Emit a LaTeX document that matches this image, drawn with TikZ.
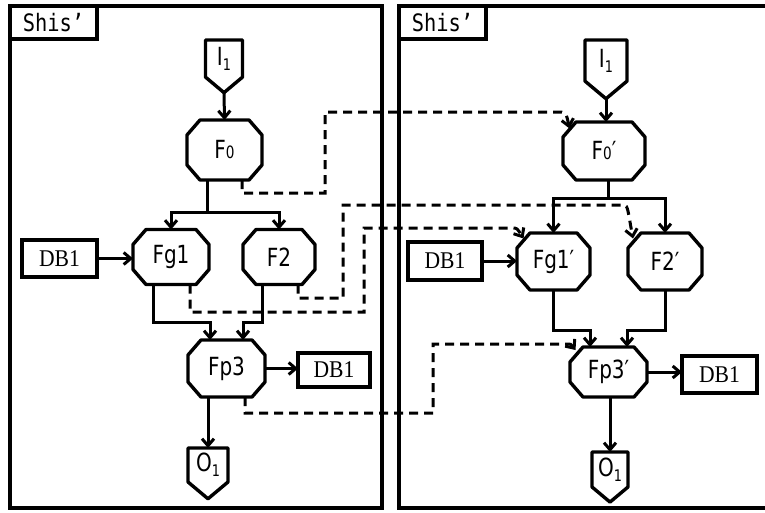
\documentclass[tikz,border=0pt]{standalone}
\usepackage{fontspec}
\setmainfont{DejaVu Sans}[FakeStretch=0.8]
\newfontfamily\dbfont{Liberation Serif}[FakeStretch=0.9]
\newfontfamily\tagfont{DejaVu Sans Mono}[FakeStretch=0.85]
\usetikzlibrary{arrows.meta,shapes.symbols,calc}
\newcommand\smallsub[1]{{\fontsize{17pt}{17pt}\selectfont #1}}
\newcommand\lowsub[1]{\raisebox{-5pt}{\fontsize{16pt}{16pt}\selectfont #1}}
\newcommand\octdraw[1]{%
  \draw[octline] ($(#1.north west)+(13,0)$) -- ($(#1.north east)+(-13,0)$)
    -- ($(#1.north east)+(0,15)$) -- ($(#1.south east)+(0,-15)$)
    -- ($(#1.south east)+(-13,0)$) -- ($(#1.south west)+(13,0)$)
    -- ($(#1.south west)+(0,-15)$) -- ($(#1.north west)+(0,15)$) -- cycle;}
\begin{document}
\begin{tikzpicture}[x=1pt,y=-1pt,
  every node/.style={font=\fontsize{25pt}{27pt}\selectfont, inner sep=0pt, outer sep=0pt},
  frame/.style={line width=3.6pt},
  oct/.style={rectangle},
  octline/.style={line width=3.4pt, line join=round},
  dbbox/.style={draw, rectangle, line width=3.4pt, font=\dbfont\fontsize{24pt}{26pt}\selectfont},
  tagbox/.style={draw, rectangle, line width=3.4pt, minimum width=87pt, minimum height=33pt,
    font=\tagfont\fontsize{24pt}{26pt}\selectfont},
  ioshape/.style={draw, signal, signal to=south, signal from=nowhere,
    signal pointer angle=100, line width=3.4pt, line join=round},
  conn/.style={-{Straight Barb[length=7pt,width=12pt]}, line width=3pt},
  dconn/.style={-{Straight Barb[length=7pt,width=12pt]}, line width=3pt,
    dash pattern=on 9pt off 6pt},
]
\useasboundingbox (0,0) rectangle (765,512);

% frames
\draw[frame] (10,6) rectangle (382,508);
\draw[frame] (767,6) -- (399,6) -- (399,508) -- (767,508);

% ---------- left panel ----------
\node[tagbox, anchor=north west] (tagL) at (10,6) {Shis’};
\node[ioshape, minimum width=37pt, minimum height=43pt, anchor=north] (I1L) at (224,40) {I\lowsub{1}};
\node[oct, minimum width=75pt, minimum height=60pt] (F0L) at (224.5,150) {F\smallsub{0}};
\node[oct, minimum width=76pt, minimum height=55pt] (Fg1L) at (171,257) {Fg1};
\node[oct, minimum width=72pt, minimum height=55pt] (F2L) at (279,257) {F2};
\node[oct, minimum width=77pt, minimum height=57pt] (Fp3L) at (226.5,368.5) {Fp3};
\octdraw{F0L}\octdraw{Fg1L}\octdraw{F2L}\octdraw{Fp3L}
\node[dbbox, minimum width=75pt, minimum height=37pt] (DBLa) at (59.5,258.5) {DB1};
\node[dbbox, minimum width=72pt, minimum height=34pt] (DBLb) at (334,370) {DB1};
\node[ioshape, minimum width=40pt, minimum height=44pt, anchor=north] (O1L) at (208,448) {O\lowsub{1}};

\draw[conn] (I1L.south) -- (F0L.north);
\coordinate (jL) at (207,212);
\draw[line width=3pt] (F0L.south -| jL) -- (jL);
\draw[conn] (jL) -| (Fg1L.north);
\draw[conn] (jL) -| (F2L.north);
\draw[conn] (DBLa.east) -- (DBLa.east -| Fg1L.west);
\draw[conn] ($(Fg1L.south)+(-18,0)$) |- ($(Fp3L.north)+(-16.5,-18)$) -- ($(Fp3L.north)+(-16.5,0)$);
\draw[conn] ($(F2L.south)+(-17,0)$) |- ($(Fp3L.north)+(16.5,-18)$) -- ($(Fp3L.north)+(16.5,0)$);
\draw[conn] (Fp3L.east) -- (Fp3L.east -| DBLb.west);
\draw[conn] (O1L.north |- Fp3L.south) -- (O1L.north);

% ---------- right panel ----------
\node[tagbox, anchor=north west] (tagR) at (399,6) {Shis’};
\node[ioshape, minimum width=42pt, minimum height=47pt, anchor=north] (I1R) at (606,40) {I\lowsub{1}};
\node[oct, minimum width=82pt, minimum height=58pt] (F0R) at (604,151) {F\smallsub{0}′};
\node[oct, minimum width=73pt, minimum height=57pt] (Fg1R) at (553.5,261.5) {Fg1′};
\node[oct, minimum width=74pt, minimum height=57pt] (F2R) at (665,261.5) {F2′};
\node[oct, minimum width=77pt, minimum height=50pt] (Fp3R) at (608.5,372) {Fp3′};
\octdraw{F0R}\octdraw{Fg1R}\octdraw{F2R}\octdraw{Fp3R}
\node[dbbox, minimum width=74pt, minimum height=38pt] (DBRa) at (445,261) {DB1};
\node[dbbox, minimum width=75pt, minimum height=37pt] (DBRb) at (719.5,374.5) {DB1};
\node[ioshape, minimum width=36pt, minimum height=45pt, anchor=north] (O1R) at (610,452) {O\lowsub{1}};

\draw[conn] (I1R.south) -- (I1R.south |- F0R.north);
\coordinate (jR) at (608,198);
\draw[line width=3pt] (F0R.south -| jR) -- (jR);
\draw[conn] (jR) -| (Fg1R.north);
\draw[conn] (jR) -| (F2R.north);
\draw[conn] (DBRa.east) -- (DBRa.east -| Fg1R.west);
\draw[conn] (Fg1R.south) |- ($(Fp3R.north)+(-18.5,-17)$) -- ($(Fp3R.north)+(-18.5,0)$);
\draw[conn] (F2R.south) |- ($(Fp3R.north)+(18.5,-17)$) -- ($(Fp3R.north)+(18.5,0)$);
\draw[conn] (Fp3R.east) -- (Fp3R.east -| DBRb.west);
\draw[conn] (O1R.north |- Fp3R.south) -- (O1R.north);

% ---------- dashed cross links ----------
\draw[dconn] ($(F0L.south)+(17.5,0)$) |- (325,193) |- (556,112)
  .. controls (566,112) .. ($(F0R.center)+(-34.5,-22.5)$);
\draw[dconn] ($(F2L.south)+(19,0)$) |- (343,298) |- (624,205)
  .. controls (628,205) and (628,212) .. ($(F2R.center)+(-32,-23)$);
\draw[dconn] ($(Fg1L.south)+(19,0)$) |- (364,312) |- (512,228)
  .. controls (517,228) .. ($(Fg1R.center)+(-30,-23)$);
\draw[dconn] ($(Fp3L.south)+(18.5,0)$) |- (433,413) |- (566,344)
  .. controls (571,344) .. ($(Fp3R.center)+(-33,-22)$);
\end{tikzpicture}
\end{document}
